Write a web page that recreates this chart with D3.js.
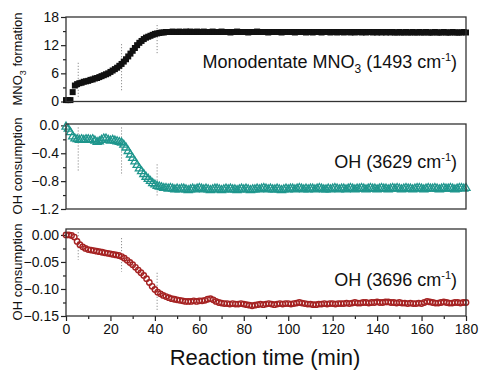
<!DOCTYPE html>
<html><head><meta charset="utf-8">
<script src="https://cdn.jsdelivr.net/npm/d3@7"></script>
<style>body{margin:0;background:#fff}svg{display:block;font-family:"Liberation Sans",Arial,sans-serif}</style>
</head><body><svg id="c" width="482" height="371"></svg>
<script>
// ---- data ----
const xTicks = [0,20,40,60,80,100,120,140,160,180];
const step1 = 1, step2 = 1, step3 = 1.25;
const mno3 = [
0.3,0.3,0.3,2.0,3.4,3.7,3.9,4.0,4.2,4.3,
4.4,4.6,4.7,4.9,5.0,5.2,5.4,5.6,5.8,6.0,
6.3,6.6,6.9,7.2,7.6,8.0,8.5,9.0,9.6,10.2,
10.8,11.4,12.0,12.5,12.9,13.3,13.6,13.8,14.0,14.2,
14.4,14.5,14.6,14.7,14.7,14.8,14.8,14.8,14.9,14.8,
14.8,14.9,14.8,14.8,14.9,14.8,14.9,14.8,14.8,14.9,
14.8,14.8,14.9,14.8,14.8,14.8,14.9,14.8,14.8,14.8,
14.9,14.8,14.8,14.8,14.7,14.8,14.8,14.9,14.8,14.8,
14.8,14.8,14.7,14.8,14.8,14.8,14.9,14.8,14.8,14.8,
14.8,14.7,14.8,14.8,14.8,14.8,14.8,14.7,14.8,14.8,
14.8,14.8,14.8,14.7,14.8,14.8,14.8,14.8,14.7,14.8,
14.8,14.7,14.8,14.8,14.8,14.7,14.8,14.8,14.8,14.7,
14.8,14.8,14.7,14.8,14.8,14.7,14.8,14.8,14.7,14.8,
14.7,14.8,14.8,14.7,14.8,14.7,14.8,14.8,14.7,14.8,
14.7,14.8,14.7,14.8,14.7,14.8,14.7,14.8,14.7,14.7,
14.8,14.7,14.7,14.8,14.7,14.7,14.8,14.7,14.7,14.8,
14.7,14.7,14.8,14.7,14.7,14.7,14.8,14.7,14.7,14.7,
14.8,14.7,14.7,14.7,14.8,14.7,14.7,14.7,14.7,14.8,
14.7];
const oh3629 = [
-0.02,-0.05,-0.10,-0.16,-0.19,-0.20,-0.21,-0.20,-0.21,-0.20,
-0.20,-0.21,-0.20,-0.22,-0.24,-0.23,-0.21,-0.19,-0.19,-0.21,
-0.22,-0.21,-0.22,-0.23,-0.24,-0.25,-0.28,-0.32,-0.37,-0.42,
-0.47,-0.52,-0.57,-0.62,-0.66,-0.70,-0.74,-0.77,-0.80,-0.83,
-0.85,-0.87,-0.88,-0.89,-0.90,-0.90,-0.91,-0.90,-0.91,-0.92,
-0.91,-0.92,-0.91,-0.91,-0.92,-0.93,-0.92,-0.91,-0.92,-0.91,
-0.90,-0.91,-0.92,-0.91,-0.92,-0.93,-0.92,-0.91,-0.91,-0.92,
-0.93,-0.92,-0.91,-0.92,-0.91,-0.92,-0.92,-0.93,-0.92,-0.91,
-0.92,-0.91,-0.92,-0.93,-0.92,-0.92,-0.91,-0.92,-0.91,-0.90,
-0.91,-0.92,-0.91,-0.92,-0.92,-0.91,-0.92,-0.93,-0.92,-0.91,
-0.92,-0.91,-0.91,-0.92,-0.91,-0.90,-0.91,-0.92,-0.91,-0.92,
-0.91,-0.91,-0.92,-0.91,-0.90,-0.91,-0.92,-0.92,-0.91,-0.92,
-0.91,-0.90,-0.91,-0.92,-0.91,-0.91,-0.92,-0.91,-0.90,-0.91,
-0.92,-0.91,-0.91,-0.90,-0.91,-0.92,-0.91,-0.90,-0.91,-0.91,
-0.92,-0.91,-0.90,-0.91,-0.91,-0.92,-0.91,-0.90,-0.91,-0.90,
-0.91,-0.92,-0.91,-0.90,-0.91,-0.91,-0.92,-0.91,-0.90,-0.90,
-0.91,-0.92,-0.91,-0.90,-0.91,-0.91,-0.90,-0.91,-0.92,-0.91,
-0.90,-0.91,-0.91,-0.90,-0.91,-0.92,-0.91,-0.90,-0.90,-0.91,
-0.90];
const oh3696 = [
0.000,0.000,-0.001,-0.004,-0.012,-0.018,-0.022,-0.025,-0.027,-0.028,
-0.029,-0.030,-0.031,-0.032,-0.033,-0.034,-0.035,-0.036,-0.037,-0.038,
-0.040,-0.043,-0.047,-0.051,-0.055,-0.060,-0.065,-0.070,-0.075,-0.081,
-0.088,-0.095,-0.101,-0.106,-0.109,-0.112,-0.114,-0.116,-0.118,-0.119,
-0.120,-0.121,-0.122,-0.123,-0.123,-0.123,-0.122,-0.123,-0.122,-0.122,
-0.121,-0.119,-0.118,-0.120,-0.123,-0.125,-0.126,-0.127,-0.127,-0.128,
-0.127,-0.128,-0.128,-0.127,-0.128,-0.129,-0.130,-0.131,-0.130,-0.129,
-0.128,-0.129,-0.128,-0.127,-0.128,-0.129,-0.128,-0.127,-0.128,-0.127,
-0.127,-0.128,-0.127,-0.126,-0.125,-0.126,-0.127,-0.128,-0.128,-0.129,
-0.129,-0.128,-0.128,-0.127,-0.128,-0.127,-0.127,-0.128,-0.127,-0.127,
-0.127,-0.126,-0.127,-0.126,-0.125,-0.126,-0.126,-0.125,-0.125,-0.126,
-0.125,-0.125,-0.124,-0.125,-0.125,-0.124,-0.124,-0.125,-0.125,-0.126,
-0.125,-0.126,-0.126,-0.127,-0.126,-0.127,-0.127,-0.126,-0.127,-0.125,
-0.123,-0.124,-0.125,-0.126,-0.126,-0.125,-0.124,-0.125,-0.126,-0.126,
-0.125,-0.125,-0.126,-0.125,-0.125];
const yTicks1 = [0,6,12,18], yMinor1 = [3,9,15];
const yTicks2 = [0.0,-0.4,-0.8,-1.2], yMinor2 = [-0.2,-0.6,-1.0];
const yTicks3 = [0.00,-0.05,-0.10,-0.15], yMinor3 = [-0.025,-0.075,-0.125];
const marks1 = [[5.5,1.0,8.4],[25,2.4,12.4],[41,10.3,16.7]];
const marks2 = [[5.5,-0.03,-0.65],[25,-0.03,-0.72],[41,-0.56,-1.01]];
const marks3 = [[5.5,0.005,-0.046],[25,-0.006,-0.068],[41,-0.07,-0.139]];

// ---- drawing ----
const svg = d3.select("#c");
const x = d3.scaleLinear().domain([0,180]).range([66,466]);
const TEAL = "#1f968d", RED = "#a52222";

const panels = [
  {data:mno3, step:step1, dom:[0,18], rng:[101.5,17], ticks:yTicks1, minor:yMinor1, fmt:d3.format("d"),
   marks:marks1, title:"formation", sym:"sq", label:["Monodentate MNO","3"," (1493 cm","-1",")"], ly:68, ty:59},
  {data:oh3629, step:step2, dom:[-1.2,0.02], rng:[209,124], ticks:yTicks2, minor:yMinor2, fmt:d3.format(".1f"),
   marks:marks2, title:"OH consumption", sym:"tri", label:["OH (3629 cm",null,"","-1",")"], ly:168, ty:166},
  {data:oh3696, step:step3, dom:[-0.15,0.011], rng:[316,229], ticks:yTicks3, minor:yMinor3, fmt:d3.format(".2f"),
   marks:marks3, title:"OH consumption", sym:"circ", label:["OH (3696 cm",null,"","-1",")"], ly:286, ty:272}
];

panels.forEach((p,pi)=>{
  const y = d3.scaleLinear().domain(p.dom).range(p.rng);
  const g = svg.append("g");
  // dotted guide lines
  g.selectAll("line.m").data(p.marks).join("line")
    .attr("x1",d=>x(d[0])).attr("x2",d=>x(d[0]))
    .attr("y1",d=>y(d[1])).attr("y2",d=>y(d[2]))
    .attr("stroke","#777").attr("stroke-width",1).attr("stroke-dasharray","1,2");
  // y axis
  const ya = d3.axisLeft(y).tickValues(p.ticks).tickFormat(p.fmt).tickSize(5).tickPadding(2);
  const yg = g.append("g").attr("transform",`translate(${x(0)},0)`).call(ya);
  yg.select(".domain").remove();
  yg.selectAll("text").attr("font-size",14).attr("fill","#111").attr("font-family","Liberation Sans, Arial, sans-serif");
  yg.selectAll("line").attr("stroke","#222").attr("stroke-width",1.2);
  const ym = d3.axisLeft(y).tickValues(p.minor).tickFormat("").tickSize(3);
  const ymg = g.append("g").attr("transform",`translate(${x(0)},0)`).call(ym);
  ymg.select(".domain").remove();
  ymg.selectAll("line").attr("stroke","#222").attr("stroke-width",1.2);
  if(pi===2){
    const xa = d3.axisBottom(x).tickValues(xTicks).tickFormat(d3.format("d")).tickSize(5).tickPadding(3);
    const xg = g.append("g").attr("transform",`translate(0,${p.rng[0]})`).call(xa);
    xg.select(".domain").remove();
    xg.selectAll("text").attr("font-size",14).attr("fill","#111").attr("font-family","Liberation Sans, Arial, sans-serif");
    xg.selectAll("line").attr("stroke","#222").attr("stroke-width",1.2);
    const xm = d3.axisBottom(x).tickValues(d3.range(10,180,20)).tickFormat("").tickSize(3);
    const xmg = g.append("g").attr("transform",`translate(0,${p.rng[0]})`).call(xm);
    xmg.select(".domain").remove();
    xmg.selectAll("line").attr("stroke","#222").attr("stroke-width",1.2);
  }
  // points
  const pts = p.data.map((v,i)=>({t:i*p.step, v}));
  if(p.sym==="sq"){
    g.selectAll("path.pt").data(pts).join("path")
      .attr("transform",d=>`translate(${x(d.t)},${y(d.v)})`)
      .attr("d",d3.symbol(d3.symbolSquare,36)).attr("fill","#111");
  } else if(p.sym==="tri"){
    g.selectAll("path.pt").data(pts).join("path")
      .attr("transform",d=>`translate(${x(d.t)},${y(d.v)})`)
      .attr("d",d3.symbol(d3.symbolTriangle,28)).attr("fill","none")
      .attr("stroke",TEAL).attr("stroke-width",1.3);
  } else {
    g.selectAll("circle.pt").data(pts).join("circle")
      .attr("cx",d=>x(d.t)).attr("cy",d=>y(d.v)).attr("r",2.7)
      .attr("fill","#fff").attr("fill-opacity",0).attr("stroke",RED).attr("stroke-width",1.4);
  }
  // frame
  g.append("rect").attr("x",x(0)).attr("y",p.rng[1]).attr("width",x(180)-x(0)).attr("height",p.rng[0]-p.rng[1])
    .attr("fill","none").attr("stroke","#333").attr("stroke-width",1.3);
  // label
  const L = p.label;
  const t = g.append("text").attr("x",457).attr("y",p.ly).attr("text-anchor","end")
    .attr("font-size",18).attr("fill","#111");
  t.append("tspan").text(L[0]);
  if(L[1]){ t.append("tspan").attr("font-size",12).attr("dy",5).text(L[1]);
            t.append("tspan").attr("dy",-5).text(L[2]); }
  t.append("tspan").attr("font-size",11).attr("dy",-7).text(L[3]);
  t.append("tspan").attr("dy",7).text(L[4]);
  // y title
  const tt = g.append("text").attr("transform",`translate(22,${p.ty}) rotate(-90)`)
    .attr("text-anchor","middle").attr("font-size",13).attr("fill","#111");
  if(pi===0){
    tt.append("tspan").text("MNO");
    tt.append("tspan").attr("font-size",9).attr("dy",4).text("3");
    tt.append("tspan").attr("dy",-4).text(" formation");
  } else tt.text(p.title);
});

svg.append("text").attr("x",265).attr("y",365).attr("text-anchor","middle")
  .attr("font-size",22).attr("fill","#111").text("Reaction time (min)");
</script></body></html>
